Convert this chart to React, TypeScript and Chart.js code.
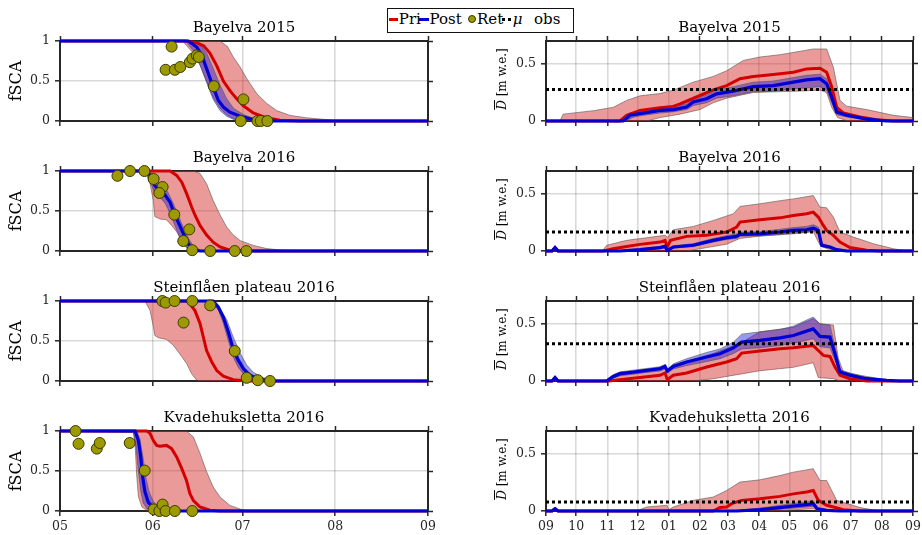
import React, { useEffect, useRef } from 'react';
import { Chart, registerables } from 'chart.js';
Chart.register(...registerables);

type P = [number, number][];

// ---------- axes ----------
const FSCA_MONTH_DAYS = [0, 31, 61, 92, 123]; // days since 1 May
const FSCA_MONTH_LABELS = ['05', '06', '07', '08', '09'];
const SWE_MONTH_DAYS = [0, 30, 61, 91, 122, 153, 181, 212, 242, 273, 303, 334, 365]; // days since 1 Sep
const SWE_MONTH_LABELS = ['09', '10', '11', '12', '01', '02', '03', '04', '05', '06', '07', '08', '09'];
const FSCA_Y_TICKS = [0, 0.5, 1];
const SWE_Y_TICKS = [0, 0.5];
const SITE_TITLES = ['Bayelva 2015', 'Bayelva 2016', 'Steinflåen plateau 2016', 'Kvadehuksletta 2016'];
const MU_OBS = [0.276, 0.166, 0.326, 0.078];

// ---------- fSCA (left column) ----------
const b15fPriMean: P = [[0,1],[42,1],[45.7,0.98],[48,0.94],[50.1,0.85],[52.4,0.69],[54.6,0.5],[56.8,0.38],[59,0.28],[61.3,0.19],[64.6,0.1],[69.1,0.04],[73.5,0.01],[80,0],[123,0]];
const b15fPriHi: P = [[0,1],[53.5,1],[56,0.93],[57.9,0.8],[60.2,0.675],[62.4,0.53],[65.8,0.34],[69.1,0.22],[72.4,0.13],[76.9,0.07],[82.4,0.04],[91.3,0.01],[100,0],[123,0]];
const b15fPriLo: P = [[0,1],[41,1],[44.5,0.85],[46.8,0.7],[49,0.5],[51.2,0.3],[53.5,0.16],[55.7,0.08],[58,0.03],[62,0.005],[65,0],[123,0]];
const b15fPostMean: P = [[0,1],[42.9,1],[45.7,0.925],[47.4,0.82],[49,0.655],[51.2,0.425],[52.9,0.26],[54.6,0.175],[56.8,0.11],[60.2,0.06],[64.6,0.017],[69.1,0],[123,0]];
const b15fPostHi: P = [[0,1],[44.5,1],[47,0.95],[49,0.85],[51.2,0.66],[53.5,0.45],[55.7,0.28],[58,0.16],[61.3,0.08],[65,0.03],[70,0.005],[75,0],[123,0]];
const b15fPostLo: P = [[0,1],[42,1],[44.5,0.88],[46.8,0.7],[49,0.48],[51.2,0.27],[53.5,0.13],[55.7,0.06],[58,0.02],[62,0],[123,0]];
const b15RetX = [35.3, 37.3, 38.4, 40.2, 43.4, 44.3, 45.7, 46.4, 51.4, 61.3, 60.4, 66.0, 67.1, 69.3];
const b15RetY = [0.64, 0.93, 0.64, 0.675, 0.735, 0.78, 0.82, 0.8, 0.435, 0.27, 0, 0, 0, 0];

const b16fPriMean: P = [[0,1],[36.8,1],[39,0.945],[40.7,0.86],[42.3,0.72],[44,0.55],[45.1,0.45],[46.8,0.32],[49,0.2],[51.2,0.11],[53.5,0.05],[56.8,0.01],[60.2,0],[123,0]];
const b16fPriHi: P = [[0,1],[44.6,1],[46.8,0.97],[49,0.84],[51.2,0.63],[53.5,0.45],[55.7,0.3],[57.9,0.2],[60.2,0.13],[64.6,0.07],[69.1,0.03],[74.6,0.01],[82,0],[123,0]];
const b16fPriLo: P = [[0,1],[28.4,1],[30.1,0.84],[31.2,0.63],[31.7,0.43],[33.4,0.4],[35.6,0.39],[37.3,0.32],[39,0.24],[40.7,0.13],[42.3,0.05],[44.6,0.01],[47,0],[123,0]];
const b16fPostMean: P = [[0,1],[29,1],[30.6,0.925],[31.7,0.82],[33.4,0.74],[35.1,0.7],[36.8,0.61],[37.8,0.51],[39.5,0.36],[41.2,0.22],[42.9,0.09],[44.6,0.01],[47,0],[123,0]];
const b16fPostHi: P = [[0,1],[30,1],[32,0.9],[34,0.8],[36,0.74],[37.8,0.6],[39.5,0.45],[41.2,0.3],[42.9,0.16],[44.6,0.06],[47,0.01],[50,0],[123,0]];
const b16fPostLo: P = [[0,1],[28.5,1],[30,0.88],[31.5,0.74],[33.4,0.67],[35.1,0.6],[36.8,0.47],[38.5,0.31],[40,0.17],[41.5,0.07],[43,0.02],[45,0],[123,0]];
const b16RetX = [19.2, 23.4, 28.2, 31.3, 34.3, 33.2, 38.2, 43.2, 41.2, 44.2, 50.2, 58.4, 62.3];
const b16RetY = [0.94, 1, 1, 0.9, 0.8, 0.725, 0.455, 0.27, 0.125, 0.01, 0, 0, 0];

const stfPriMean: P = [[0,1],[42,1],[42.9,0.99],[45.1,0.88],[46.8,0.72],[47.9,0.55],[49,0.38],[50.7,0.24],[52.4,0.13],[54.6,0.06],[57.9,0.017],[62.4,0],[123,0]];
const stfPriHi: P = [[0,1],[51.2,1],[53.5,0.88],[55.7,0.68],[57.4,0.43],[59,0.26],[61.3,0.15],[64.6,0.07],[69.1,0.017],[74,0],[123,0]];
const stfPriLo: P = [[0,1],[28.4,1],[30.1,0.88],[31.2,0.68],[31.7,0.57],[32.9,0.54],[35.6,0.52],[37.8,0.45],[40,0.34],[42.3,0.22],[44,0.09],[45.7,0.01],[48,0],[123,0]];
const stfPostMean: P = [[0,1],[51.2,1],[52.9,0.925],[54.6,0.8],[56.3,0.61],[57.9,0.4],[59.6,0.26],[61.3,0.155],[63.5,0.07],[66.8,0.02],[71.3,0],[123,0]];
const stfPostHi: P = [[0,1],[49.5,1],[51.5,0.97],[53.5,0.9],[55.7,0.77],[57.9,0.55],[60.2,0.35],[62.4,0.2],[64.6,0.11],[67.9,0.04],[72,0.01],[76,0],[123,0]];
const stfPostLo: P = [[0,1],[51,0.99],[53,0.88],[54.6,0.72],[56.3,0.5],[57.9,0.3],[59.6,0.17],[61.3,0.09],[63.5,0.03],[66,0.005],[68,0],[123,0]];
const stRetX = [34.2, 35.3, 38.3, 44.2, 50.2, 41.3, 58.4, 62.4, 66.1, 70.2];
const stRetY = [1, 0.98, 1, 1, 0.945, 0.73, 0.375, 0.04, 0.01, 0];

const kvfPriMean: P = [[0,1],[29,1],[30.1,0.97],[31.2,0.88],[32.3,0.82],[33.4,0.81],[35.6,0.82],[37.3,0.78],[39,0.675],[40.7,0.53],[42.3,0.38],[43.4,0.22],[44.6,0.13],[46.8,0.05],[50.1,0.01],[53.5,0],[123,0]];
const kvfPriHi: P = [[0,1],[42.3,1],[44.6,0.925],[46.8,0.72],[49,0.49],[51.2,0.3],[53.5,0.175],[56.8,0.07],[61.3,0.01],[66,0],[123,0]];
const kvfPriLo: P = [[0,1],[24.5,1],[25.1,0.84],[25.6,0.47],[26.2,0.18],[27.4,0.05],[29,0.01],[30.6,0],[123,0]];
const kvfPostMean: P = [[0,1],[25.1,1],[26.2,0.88],[27,0.675],[27.6,0.43],[28.4,0.24],[29.5,0.11],[31.2,0.04],[33.4,0.01],[35.6,0],[123,0]];
const kvfPostHi: P = [[0,1],[25.6,1],[26.7,0.9],[27.8,0.66],[28.7,0.42],[29.8,0.24],[31.2,0.12],[33,0.05],[35.6,0.01],[38,0],[123,0]];
const kvfPostLo: P = [[0,1],[24.5,0.98],[25.4,0.8],[26.2,0.5],[27,0.25],[27.8,0.1],[29,0.03],[31,0],[123,0]];
const kvRetX = [5.2, 6.2, 12.3, 13.3, 23.3, 28.3, 31.3, 33.2, 34.3, 35.3, 38.4, 44.2];
const kvRetY = [1, 0.84, 0.78, 0.85, 0.85, 0.505, 0.02, 0, 0.08, 0, 0, 0];

// ---------- mean snow depth D (right column) ----------
const b15dPriMean: P = [[0,0],[73.6,0],[80.2,0.05],[93.5,0.093],[113.4,0.116],[126.6,0.128],[133.3,0.15],[143.2,0.186],[153.2,0.224],[166.4,0.273],[179.7,0.31],[192.9,0.37],[206.2,0.39],[226.1,0.407],[246,0.427],[259.2,0.456],[272.5,0.462],[279.1,0.427],[284.1,0.3],[289.1,0.12],[295.7,0.07],[312.3,0.035],[328.9,0.012],[345.4,0],[365,0]];
const b15dPriHi: P = [[0,0],[13.9,0],[17,0.06],[47.1,0.09],[66.9,0.12],[80.2,0.18],[93.5,0.22],[113.4,0.24],[126.6,0.27],[146.5,0.34],[166.4,0.39],[179.7,0.44],[196.2,0.53],[212.8,0.56],[232.7,0.58],[255.9,0.615],[265.8,0.63],[279.1,0.63],[285.8,0.47],[292.4,0.18],[299,0.13],[318.9,0.1],[345.4,0.05],[365,0.03]];
const b15dPriLo: P = [[0,0],[100,0],[113.4,0.03],[133.3,0.06],[153.2,0.1],[166.4,0.16],[179.7,0.2],[206.2,0.25],[246,0.26],[272.5,0.27],[279.1,0.25],[284.1,0.12],[290,0.03],[300,0],[365,0]];
const b15dPostMean: P = [[0,0],[76.9,0],[83.5,0.05],[93.5,0.064],[113.4,0.093],[126.6,0.1],[139.9,0.122],[146.5,0.166],[159.8,0.195],[169.7,0.238],[186.3,0.262],[206.2,0.3],[226.1,0.31],[246,0.34],[259.2,0.36],[272.5,0.37],[279.1,0.326],[284.1,0.21],[289.1,0.078],[299,0.05],[318.9,0.017],[338.8,0],[365,0]];
const b15dPostHi: P = [[0,0],[75,0],[83.5,0.07],[93.5,0.09],[113.4,0.12],[126.6,0.13],[139.9,0.15],[146.5,0.2],[159.8,0.23],[169.7,0.27],[186.3,0.3],[206.2,0.34],[226.1,0.35],[246,0.38],[259.2,0.4],[272.5,0.41],[279.1,0.37],[284.1,0.26],[289.1,0.1],[299,0.065],[318.9,0.025],[340,0],[365,0]];
const b15dPostLo: P = [[0,0],[80,0],[86,0.03],[93.5,0.045],[113.4,0.07],[126.6,0.08],[139.9,0.1],[146.5,0.135],[159.8,0.16],[169.7,0.2],[186.3,0.22],[206.2,0.255],[226.1,0.26],[246,0.28],[259.2,0.29],[272.5,0.3],[279.1,0.27],[284.1,0.16],[289.1,0.055],[299,0.035],[318.9,0.01],[335,0],[365,0]];

const b16dPriMean: P = [[0,0],[6,0],[9,0.03],[12,0],[57,0],[66.9,0.02],[80.2,0.04],[93.5,0.058],[113.4,0.078],[118.4,0.093],[120.5,0.035],[123.9,0.093],[139.9,0.128],[159.8,0.137],[179.7,0.166],[189.6,0.21],[192.9,0.253],[212.8,0.273],[232.7,0.29],[246,0.31],[259.2,0.326],[265.8,0.34],[270.8,0.297],[275.8,0.224],[279.1,0.18],[285.8,0.137],[292.4,0.078],[302.3,0.03],[318.9,0.006],[332.2,0],[365,0]];
const b16dPriHi: P = [[0,0],[6,0],[9,0.03],[12,0],[56,0],[60.4,0.05],[80.2,0.093],[100.1,0.116],[118.4,0.137],[121,0.12],[126.6,0.186],[146.5,0.215],[166.4,0.267],[186.3,0.326],[192.9,0.39],[212.8,0.413],[232.7,0.44],[246,0.456],[265.8,0.485],[272.5,0.384],[279.1,0.378],[285.8,0.297],[292.4,0.166],[305.6,0.122],[325.5,0.064],[345.4,0.02],[358.7,0],[365,0]];
const b16dPriLo: P = [[0,0],[140,0],[160,0.03],[179.7,0.06],[192.9,0.11],[212.8,0.13],[246,0.15],[265.8,0.17],[272.5,0.05],[279.1,0.02],[292.4,0],[365,0]];
const b16dPostMean: P = [[0,0],[6,0],[9,0.03],[12,0],[73.6,0],[93.5,0.012],[113.4,0.03],[118.4,0.04],[120.5,0.006],[126.6,0.035],[146.5,0.05],[166.4,0.093],[179.7,0.116],[189.6,0.128],[192.9,0.145],[212.8,0.15],[232.7,0.166],[246,0.18],[259.2,0.186],[265.8,0.2],[270.8,0.18],[274.2,0.05],[282.4,0.035],[289.1,0.012],[299,0],[365,0]];
const b16dPostHi: P = [[0,0],[70,0],[93.5,0.02],[113.4,0.04],[118.4,0.05],[120.5,0.015],[126.6,0.045],[146.5,0.065],[166.4,0.11],[179.7,0.135],[189.6,0.15],[192.9,0.165],[212.8,0.17],[232.7,0.19],[246,0.205],[259.2,0.215],[265.8,0.23],[270.8,0.21],[274.2,0.065],[282.4,0.045],[289.1,0.018],[300,0],[365,0]];
const b16dPostLo: P = [[0,0],[80,0],[113.4,0.02],[118.4,0.03],[120.5,0],[126.6,0.025],[146.5,0.038],[166.4,0.078],[179.7,0.1],[189.6,0.11],[192.9,0.128],[212.8,0.133],[232.7,0.145],[246,0.158],[259.2,0.162],[265.8,0.175],[270.8,0.155],[274.2,0.038],[282.4,0.025],[289.1,0.006],[296,0],[365,0]];

const stdPriMean: P = [[0,0],[6,0],[9,0.03],[12,0],[63,0],[73.6,0.012],[93.5,0.03],[113.4,0.05],[118.4,0.07],[120.7,0.012],[126.6,0.05],[139.9,0.07],[159.8,0.122],[179.7,0.166],[189.6,0.195],[194.6,0.244],[212.8,0.262],[232.7,0.282],[246,0.29],[265.8,0.31],[270.8,0.267],[275.8,0.224],[282.4,0.215],[287.4,0.122],[292.4,0.05],[302.3,0.02],[318.9,0],[365,0]];
const stdPriHi: P = [[0,0],[6,0],[9,0.03],[12,0],[60.4,0],[73.6,0.05],[93.5,0.09],[113.4,0.12],[118.4,0.13],[120.7,0.09],[126.6,0.14],[146.5,0.19],[166.4,0.24],[192.9,0.33],[212.8,0.43],[246,0.47],[265.8,0.545],[272.5,0.5],[285.8,0.49],[290.7,0.2],[295.7,0.08],[312.3,0.05],[332,0.02],[352,0],[365,0]];
const stdPriLo: P = [[0,0],[146.5,0],[166.4,0.02],[192.9,0.06],[212.8,0.09],[246,0.12],[265.8,0.16],[270.8,0.03],[285.8,0.02],[292.4,0],[365,0]];
const stdPostMean: P = [[0,0],[6,0],[9,0.03],[12,0],[60.4,0],[66.9,0.04],[73.6,0.064],[86.8,0.078],[100.1,0.093],[113.4,0.107],[118.4,0.128],[120.7,0.087],[126.6,0.128],[139.9,0.166],[159.8,0.21],[173,0.238],[186.3,0.29],[194.6,0.34],[212.8,0.355],[232.7,0.378],[246,0.398],[265.8,0.456],[272.5,0.39],[282.4,0.384],[287.4,0.238],[292.4,0.078],[302.3,0.05],[318.9,0.02],[338.8,0.006],[352,0],[365,0]];
const stdPostHi: P = [[0,0],[58,0],[66.9,0.055],[73.6,0.08],[86.8,0.095],[100.1,0.11],[113.4,0.125],[118.4,0.145],[120.7,0.105],[126.6,0.15],[139.9,0.195],[159.8,0.25],[173,0.28],[186.3,0.34],[194.6,0.41],[212.8,0.43],[232.7,0.45],[246,0.48],[265.8,0.56],[272.5,0.5],[282.4,0.49],[287.4,0.3],[292.4,0.1],[302.3,0.07],[318.9,0.03],[338.8,0.01],[355,0],[365,0]];
const stdPostLo: P = [[0,0],[62,0],[66.9,0.025],[73.6,0.045],[86.8,0.06],[100.1,0.075],[113.4,0.088],[118.4,0.105],[120.7,0.07],[126.6,0.105],[139.9,0.135],[159.8,0.17],[173,0.195],[186.3,0.24],[194.6,0.28],[212.8,0.29],[232.7,0.31],[246,0.33],[265.8,0.37],[272.5,0.3],[282.4,0.29],[287.4,0.18],[292.4,0.055],[302.3,0.035],[318.9,0.01],[335,0],[365,0]];

const kvdPriMean: P = [[0,0],[6,0],[9,0.02],[12,0],[166.4,0],[173,0.03],[179.7,0.035],[184.6,0.064],[194.6,0.093],[212.8,0.107],[232.7,0.128],[246,0.15],[259.2,0.166],[265.8,0.18],[270.8,0.093],[279.1,0.05],[285.8,0.035],[295.7,0.012],[312,0],[365,0]];
const kvdPriHi: P = [[0,0],[90,0],[100.1,0.035],[120.4,0.05],[122.3,0.012],[126.6,0.035],[146.5,0.093],[166.4,0.122],[179.7,0.18],[192.9,0.253],[212.8,0.273],[232.7,0.31],[246,0.34],[265.8,0.37],[272.5,0.267],[279.1,0.267],[289.1,0.093],[312.3,0.03],[332,0],[365,0]];
const kvdPriLo: P = [[0,0],[230,0],[246,0.01],[265.8,0.02],[272.5,0],[365,0]];
const kvdPostMean: P = [[0,0],[6,0],[9,0.02],[12,0],[189.6,0],[212.8,0.012],[232.7,0.03],[246,0.044],[259.2,0.055],[265.8,0.064],[269.8,0.02],[279.1,0.006],[292.4,0],[365,0]];
const kvdPostHi: P = [[0,0],[185,0],[212.8,0.025],[232.7,0.05],[246,0.065],[259.2,0.08],[265.8,0.09],[269.8,0.03],[279.1,0.01],[295,0],[365,0]];
const kvdPostLo: P = [[0,0],[200,0],[232.7,0.015],[246,0.025],[259.2,0.035],[265.8,0.04],[269.8,0.008],[280,0],[365,0]];

// ---------- styling ----------
const FONT = "'DejaVu Serif', serif";
const INK = '#262626';
const GRID = 'rgba(0,0,0,0.15)';
const EDGE = 'rgba(85,85,85,0.75)';
const PRI_FILL = 'rgba(210,30,30,0.45)';
const POST_FILL = 'rgba(30,30,210,0.45)';
const PRI_LINE = '#d40000';
const POST_LINE = '#0000d6';
const RET_FILL = '#9c9a00';
const RET_EDGE = '#3a3a00';

const ROW_TOP = [41, 171, 301, 431];
const PLOT_H = 80;
const TOP_H = 30;

Chart.defaults.font.family = FONT;

const xy = (p: P) => p.map(([x, y]) => ({ x, y }));

function bandAndMeans(s: any) {
  const thin = { borderColor: EDGE, borderWidth: 0.8, pointRadius: 0, tension: 0 };
  return [
    { ...thin, data: xy(s.priLo), fill: false, order: 10 },
    { ...thin, data: xy(s.priHi), fill: '-1', backgroundColor: PRI_FILL, order: 9 },
    { ...thin, data: xy(s.postLo), fill: false, order: 8 },
    { ...thin, data: xy(s.postHi), fill: '-1', backgroundColor: POST_FILL, order: 7 },
    { data: xy(s.priMean), borderColor: PRI_LINE, borderWidth: 3, pointRadius: 0, fill: false, clip: false, order: 4 },
    { data: xy(s.postMean), borderColor: POST_LINE, borderWidth: 3.2, pointRadius: 0, fill: false, clip: false, order: 3 },
  ];
}

function geometry(kind: 'fsca' | 'swe', row: number) {
  const bottomH = row === 3 ? 24 : 14;
  return {
    left: kind === 'fsca' ? 0 : 470,
    width: kind === 'fsca' ? 448 : 462,
    leftW: kind === 'fsca' ? 60 : 76,
    rightW: kind === 'fsca' ? 20 : 19,
    top: ROW_TOP[row] - TOP_H,
    bottomH,
    height: TOP_H + PLOT_H + bottomH,
  };
}

function makeScales(kind: 'fsca' | 'swe', row: number) {
  const g = geometry(kind, row);
  const showX = row === 3;
  const xmax = kind === 'fsca' ? 123 : 365;
  const days = kind === 'fsca' ? FSCA_MONTH_DAYS : SWE_MONTH_DAYS;
  const labels = kind === 'fsca' ? FSCA_MONTH_LABELS : SWE_MONTH_LABELS;
  const ymax = kind === 'fsca' ? 1 : 0.7;
  const yt = kind === 'fsca' ? FSCA_Y_TICKS : SWE_Y_TICKS;
  const setX = (s: any) => { s.ticks = days.map((v) => ({ value: v })); };
  const setY = (s: any) => { s.ticks = yt.map((v) => ({ value: v })); };
  const gc = (lo: number, hi: number) => (c: any) => {
    const v = c.tick ? c.tick.value : null;
    return v === lo || v === hi ? 'rgba(0,0,0,0)' : GRID;
  };
  const tickMarks = { tickColor: INK, tickLength: 5, tickWidth: 1.5 };
  const border = { display: true, color: INK, width: 2 };
  const tickFont = { family: FONT, size: 12.5 };
  return {
    x: {
      type: 'linear', position: 'bottom', min: 0, max: xmax, afterBuildTicks: setX,
      ticks: { display: showX, autoSkip: false, maxRotation: 0, padding: 3, color: INK, font: tickFont,
        callback: (_v: any, i: number) => labels[i] },
      grid: { color: gc(0, xmax), lineWidth: 1.6, ...tickMarks },
      border,
      afterFit: (s: any) => { s.height = g.bottomH; },
    },
    x2: {
      type: 'linear', position: 'top', min: 0, max: xmax, afterBuildTicks: setX,
      ticks: { display: false },
      grid: { drawOnChartArea: false, ...tickMarks },
      border,
      title: { display: true, text: SITE_TITLES[row], color: '#000', font: { family: FONT, size: 15 }, padding: { top: 8, bottom: 0 } },
      afterFit: (s: any) => { s.height = TOP_H; },
    },
    y: {
      type: 'linear', position: 'left', min: 0, max: ymax, afterBuildTicks: setY,
      ticks: { padding: 5, color: INK, font: tickFont, callback: (v: any) => String(v) },
      grid: { color: gc(0, ymax), lineWidth: 1.6, ...tickMarks },
      border,
      title: kind === 'fsca'
        ? { display: true, text: 'fSCA', color: '#000', font: { family: FONT, size: 16 }, padding: { top: 7, bottom: 0 } }
        : { display: false },
      afterFit: (s: any) => { s.width = g.leftW; },
    },
    y2: {
      type: 'linear', position: 'right', min: 0, max: ymax, afterBuildTicks: setY,
      ticks: { display: false },
      grid: { drawOnChartArea: false, ...tickMarks },
      border,
      afterFit: (s: any) => { s.width = g.rightW; },
    },
  };
}

const FSCA_SERIES = [
  { priMean: b15fPriMean, priHi: b15fPriHi, priLo: b15fPriLo, postMean: b15fPostMean, postHi: b15fPostHi, postLo: b15fPostLo, retX: b15RetX, retY: b15RetY },
  { priMean: b16fPriMean, priHi: b16fPriHi, priLo: b16fPriLo, postMean: b16fPostMean, postHi: b16fPostHi, postLo: b16fPostLo, retX: b16RetX, retY: b16RetY },
  { priMean: stfPriMean, priHi: stfPriHi, priLo: stfPriLo, postMean: stfPostMean, postHi: stfPostHi, postLo: stfPostLo, retX: stRetX, retY: stRetY },
  { priMean: kvfPriMean, priHi: kvfPriHi, priLo: kvfPriLo, postMean: kvfPostMean, postHi: kvfPostHi, postLo: kvfPostLo, retX: kvRetX, retY: kvRetY },
];
const SWE_SERIES = [
  { priMean: b15dPriMean, priHi: b15dPriHi, priLo: b15dPriLo, postMean: b15dPostMean, postHi: b15dPostHi, postLo: b15dPostLo },
  { priMean: b16dPriMean, priHi: b16dPriHi, priLo: b16dPriLo, postMean: b16dPostMean, postHi: b16dPostHi, postLo: b16dPostLo },
  { priMean: stdPriMean, priHi: stdPriHi, priLo: stdPriLo, postMean: stdPostMean, postHi: stdPostHi, postLo: stdPostLo },
  { priMean: kvdPriMean, priHi: kvdPriHi, priLo: kvdPriLo, postMean: kvdPostMean, postHi: kvdPostHi, postLo: kvdPostLo },
];

function buildConfig(kind: 'fsca' | 'swe', row: number): any {
  const datasets: any[] = [];
  if (kind === 'fsca') {
    const s = FSCA_SERIES[row];
    datasets.push(...bandAndMeans(s));
    datasets.push({
      data: s.retX.map((x, i) => ({ x, y: s.retY[i] })),
      showLine: false, pointRadius: 5.5, pointHoverRadius: 5.5,
      pointBackgroundColor: RET_FILL, pointBorderColor: RET_EDGE, pointBorderWidth: 1,
      borderColor: RET_EDGE, backgroundColor: RET_FILL, clip: false, order: 0,
    });
  } else {
    const s = SWE_SERIES[row];
    datasets.push(...bandAndMeans(s));
    datasets.push({
      data: [{ x: 0, y: MU_OBS[row] }, { x: 365, y: MU_OBS[row] }],
      borderColor: '#000', borderWidth: 3, borderDash: [3, 3], pointRadius: 0, fill: false, order: 1,
    });
  }
  return {
    type: 'line',
    data: { datasets },
    options: {
      responsive: false,
      animation: false,
      devicePixelRatio: 1,
      events: [],
      layout: { padding: 0 },
      plugins: { legend: { display: false }, tooltip: { enabled: false }, title: { display: false } },
      scales: makeScales(kind, row),
    },
  };
}

function ChartPanel({ kind, row }: { kind: 'fsca' | 'swe'; row: number }) {
  const ref = useRef<HTMLCanvasElement>(null);
  const g = geometry(kind, row);
  useEffect(() => {
    const chart = new Chart(ref.current as HTMLCanvasElement, buildConfig(kind, row));
    return () => chart.destroy();
  }, [kind, row]);
  return (
    <canvas ref={ref} width={g.width} height={g.height}
      style={{ position: 'absolute', left: g.left, top: g.top, width: g.width, height: g.height, display: 'block' }} />
  );
}

function Legend() {
  const txt: React.CSSProperties = { position: 'absolute', top: 0, lineHeight: '21px', fontSize: 15, color: '#000', whiteSpace: 'nowrap' };
  return (
    <div style={{ position: 'absolute', left: 387, top: 8, width: 187, height: 24.5, boxSizing: 'border-box',
      border: '1.5px solid #111', background: '#fff', fontFamily: FONT }}>
      <div style={{ position: 'absolute', left: 0.5, top: 8.5, width: 9, height: 3, background: PRI_LINE }} />
      <span style={{ ...txt, left: 10.8 }}>Pri</span>
      <div style={{ position: 'absolute', left: 31, top: 8.5, width: 9.5, height: 3, background: POST_LINE }} />
      <span style={{ ...txt, left: 41.5 }}>Post</span>
      <div style={{ position: 'absolute', left: 80.2, top: 5.5, width: 8, height: 8, boxSizing: 'border-box',
        borderRadius: '50%', background: RET_FILL, border: `1px solid ${RET_EDGE}` }} />
      <span style={{ ...txt, left: 89 }}>Ret</span>
      <div style={{ position: 'absolute', left: 114.2, top: 8.5, width: 9, height: 3,
        background: 'repeating-linear-gradient(90deg, #000 0 3px, transparent 3px 6px)' }} />
      <span style={{ ...txt, left: 124.8 }}><i>μ</i></span>
      <span style={{ ...txt, left: 146 }}>obs</span>
    </div>
  );
}

function DLabel({ row }: { row: number }) {
  return (
    <div style={{ position: 'absolute', left: 501.7, top: ROW_TOP[row] + 38, transform: 'translate(-50%,-50%) rotate(-90deg)',
      whiteSpace: 'nowrap', fontSize: 12, lineHeight: '14px', fontFamily: FONT, color: '#000' }}>
      <span style={{ fontStyle: 'italic', textDecoration: 'overline' }}>D</span> [m w.e.]
    </div>
  );
}

export default function App() {
  return (
    <div style={{ position: 'absolute', left: 0, top: 0, width: 922, height: 535, background: '#fff', overflow: 'hidden', fontFamily: FONT }}>
      {[0, 1, 2, 3].map((r) => <ChartPanel key={'f' + r} kind="fsca" row={r} />)}
      {[0, 1, 2, 3].map((r) => <ChartPanel key={'s' + r} kind="swe" row={r} />)}
      {[0, 1, 2, 3].map((r) => <DLabel key={'d' + r} row={r} />)}
      <Legend />
    </div>
  );
}
